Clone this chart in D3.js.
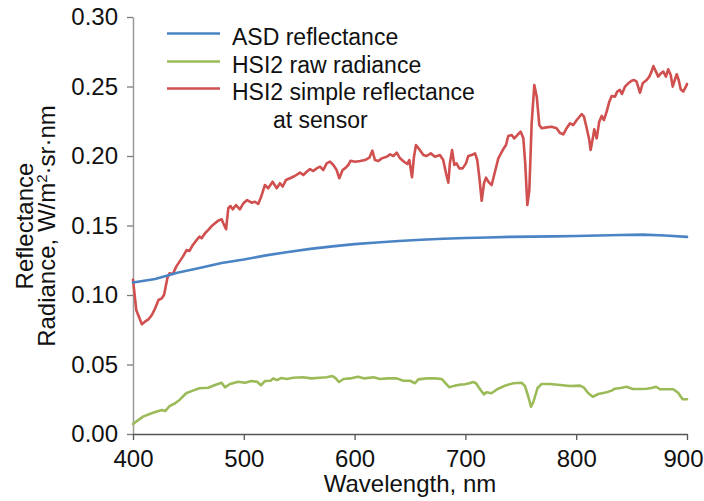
<!DOCTYPE html>
<html>
<head>
<meta charset="utf-8">
<script src="https://cdn.jsdelivr.net/npm/d3@7/dist/d3.min.js"></script>
<style>
  html, body { margin: 0; padding: 0; background: #fff; }
  svg { display: block; font-family: "Liberation Sans", Arial, sans-serif; }
</style>
</head>
<body>
<svg id="chart" width="704" height="501"></svg>
<script>
// Axis ticks
const xTicks = [400, 500, 600, 700, 800, 900];
const yTicks = [0.00, 0.05, 0.10, 0.15, 0.20, 0.25, 0.30];

// Series names
const seriesNames = ["ASD reflectance", "HSI2 raw radiance", "HSI2 simple reflectance"];

// ASD reflectance (smooth field spectrometer curve)
const asdWl  = [400, 420, 440, 460, 480, 500, 520, 540, 560, 580, 600, 620, 640, 660, 680, 700, 720, 740, 760, 780, 800, 820, 840, 860, 880, 900];
const asdVal = [0.109, 0.1115, 0.116, 0.1195, 0.123, 0.1255, 0.1285, 0.131, 0.1332, 0.135, 0.1366, 0.1378, 0.1388, 0.1398, 0.1405, 0.141, 0.1414, 0.1418, 0.142, 0.1422, 0.1425, 0.1428, 0.1432, 0.1434, 0.1428, 0.1418];

// HSI2 raw radiance
const rawWl  = [400, 409, 418, 426, 429, 433, 438, 442, 448, 454, 460, 468, 474, 480, 483, 487.5, 495, 501, 507, 512, 515.5, 519, 524, 526.6, 529.7, 534, 538.7, 544.7, 553.7, 561, 568.8, 574.8, 580, 583, 586, 590, 596, 603, 609, 617, 623, 630, 638, 644, 650, 654.5, 657.5, 665, 672.6, 678.6, 681.6, 685.5, 690.6, 695, 699.6, 703.5, 707, 709.6, 713.7, 716.8, 719, 723.6, 728.7, 735.7, 743.3, 750.8, 753.8, 756.8, 759.2, 761.4, 765, 768.8, 776.4, 785.4, 794.4, 803.4, 807, 811, 815, 820, 827.5, 832, 835, 840, 845.5, 851, 857.6, 863.6, 868, 872, 875.6, 881.6, 887.6, 892, 896, 900];
const rawVal = [0.0072, 0.0125, 0.0153, 0.0173, 0.0165, 0.0201, 0.0221, 0.0245, 0.0293, 0.0312, 0.0329, 0.0333, 0.0353, 0.0369, 0.0336, 0.036, 0.0376, 0.0369, 0.0381, 0.0376, 0.035, 0.0381, 0.0383, 0.04, 0.0388, 0.0403, 0.0396, 0.0405, 0.0408, 0.04, 0.0405, 0.0408, 0.0417, 0.04, 0.0374, 0.0396, 0.04, 0.0412, 0.04, 0.0408, 0.0396, 0.04, 0.04, 0.0383, 0.0383, 0.0365, 0.0393, 0.04, 0.04, 0.0396, 0.0369, 0.0336, 0.0348, 0.0355, 0.0358, 0.0365, 0.0374, 0.0365, 0.0317, 0.0285, 0.03, 0.0293, 0.0322, 0.0348, 0.0365, 0.0369, 0.0345, 0.0268, 0.0196, 0.0232, 0.0329, 0.036, 0.036, 0.0353, 0.0345, 0.0348, 0.0333, 0.0293, 0.0268, 0.0288, 0.03, 0.0312, 0.0326, 0.0331, 0.034, 0.0324, 0.0324, 0.0326, 0.0331, 0.034, 0.0322, 0.0322, 0.0322, 0.0297, 0.025, 0.025];

// HSI2 simple reflectance at sensor
const hsiWl  = [400, 403, 408, 411, 414, 417, 420, 423, 426, 428, 431, 433, 436, 439, 442, 445, 448.5, 451, 454, 457, 460, 462, 465, 468, 471, 474, 477, 480, 481.5, 484, 486, 488, 490, 493, 496.5, 499.5, 503, 507, 510, 513, 515.5, 519, 522, 526, 529.7, 532.7, 535, 538, 541.7, 546, 550.7, 553.7, 556.8, 559.7, 562.7, 565.8, 568.8, 571.8, 574.8, 577.8, 580.8, 583.8, 586.2, 589.2, 591.3, 594.3, 596.4, 600.4, 605, 609.4, 613.3, 616, 618.4, 621.4, 624.5, 629, 632, 635, 638, 641, 644.6, 647.6, 649.4, 651.8, 653.6, 655.4, 658.4, 662, 665, 668.7, 672.6, 677, 680, 682.5, 684.6, 686, 688, 690, 692, 694.5, 697.5, 700.5, 702.6, 705.7, 708.7, 710.7, 712.5, 714.7, 716.8, 718.6, 720.7, 723.7, 726.7, 729.7, 733.7, 736.6, 738.7, 741.8, 744.1, 746.9, 749.9, 752.3, 754, 755.9, 757.7, 759.8, 762.2, 764.4, 766.7, 768.8, 773.3, 777.8, 782.3, 785.4, 788.4, 791.4, 794.4, 797.4, 800.5, 805, 807, 809.5, 811.8, 813, 815, 816.3, 818.5, 820.8, 823, 825, 827.5, 829.9, 832, 835, 837, 839.5, 841.3, 844, 847, 850, 852.2, 854.5, 857.6, 860, 863.6, 866, 868, 869.6, 872, 874, 876.5, 878.6, 881, 883, 885.3, 887.1, 889, 890.7, 892.5, 894.3, 896.6, 899, 900];
const hsiVal = [0.111, 0.089, 0.079, 0.081, 0.0825, 0.0856, 0.0904, 0.0964, 0.0976, 0.1, 0.112, 0.1156, 0.1151, 0.1204, 0.124, 0.1276, 0.1324, 0.1317, 0.136, 0.1391, 0.142, 0.1408, 0.1444, 0.1468, 0.1496, 0.1516, 0.1535, 0.1545, 0.1516, 0.1473, 0.1624, 0.164, 0.1616, 0.1647, 0.1616, 0.1659, 0.1683, 0.1664, 0.1671, 0.1655, 0.1703, 0.1791, 0.1768, 0.1815, 0.1768, 0.1804, 0.178, 0.1827, 0.184, 0.1856, 0.188, 0.1863, 0.1887, 0.1906, 0.1892, 0.1911, 0.1923, 0.1899, 0.1947, 0.1959, 0.1935, 0.1899, 0.184, 0.1899, 0.1911, 0.1935, 0.1966, 0.1959, 0.1964, 0.1971, 0.1988, 0.2038, 0.1971, 0.1964, 0.1983, 0.1995, 0.2012, 0.2, 0.2024, 0.1983, 0.1959, 0.1942, 0.1971, 0.1847, 0.1995, 0.2079, 0.2048, 0.2007, 0.2, 0.2019, 0.1995, 0.2007, 0.1971, 0.1876, 0.1808, 0.1947, 0.2043, 0.1935, 0.1947, 0.1911, 0.1911, 0.1947, 0.2, 0.2007, 0.2019, 0.1971, 0.1851, 0.1678, 0.1804, 0.1844, 0.1815, 0.1791, 0.1887, 0.1983, 0.2043, 0.2079, 0.2144, 0.2151, 0.2127, 0.2151, 0.2175, 0.2127, 0.1947, 0.1647, 0.1755, 0.2235, 0.2511, 0.2427, 0.2223, 0.22, 0.2206, 0.2211, 0.22, 0.2165, 0.2156, 0.22, 0.2235, 0.2223, 0.2259, 0.2302, 0.2283, 0.22, 0.2115, 0.2043, 0.2127, 0.2192, 0.2127, 0.2247, 0.2288, 0.2259, 0.2319, 0.2391, 0.2432, 0.2427, 0.2463, 0.2475, 0.2446, 0.2499, 0.2523, 0.2542, 0.2547, 0.2535, 0.2455, 0.2523, 0.2547, 0.2571, 0.2607, 0.2647, 0.2607, 0.2571, 0.2595, 0.2607, 0.2571, 0.2624, 0.2583, 0.2499, 0.2547, 0.2588, 0.2547, 0.248, 0.2463, 0.2499, 0.2518];

const colors = ["#4a84c4", "#9bbb59", "#d04f4f"];

const svg = d3.select("#chart");
const FONT = 24;
const W = +svg.attr("width");

const x = d3.scaleLinear().domain([400, 900]).range([133, 687]);
const y = d3.scaleLinear().domain([0, 0.30]).range([434, 17]);

// Y axis
const yAxis = svg.append("g")
  .attr("transform", `translate(${x(400)},0)`)
  .call(d3.axisLeft(y).tickValues(yTicks).tickFormat(d3.format(".2f"))
    .tickSize(6).tickSizeOuter(0).tickPadding(9));
yAxis.select(".domain").attr("stroke", "#9a9a9a").attr("stroke-width", 1.5);
yAxis.selectAll(".tick line").attr("stroke", "#7a7a7a").attr("stroke-width", 1.3);
yAxis.selectAll(".tick text").attr("font-size", FONT).attr("font-family", null).attr("fill", "#111");

// X axis
const xAxis = svg.append("g")
  .attr("transform", `translate(0,${y(0)})`)
  .call(d3.axisBottom(x).tickValues(xTicks).tickFormat(d3.format("d"))
    .tickSize(6).tickSizeOuter(0).tickPadding(10));
xAxis.select(".domain").attr("stroke", "#555").attr("stroke-width", 1.5);
xAxis.selectAll(".tick line").attr("stroke", "#555").attr("stroke-width", 1.3);
xAxis.selectAll(".tick text").attr("font-size", FONT).attr("font-family", null).attr("fill", "#111");

// keep the last tick label inside the drawing area
xAxis.selectAll(".tick text").each(function (d) {
  const bb = this.getBBox();
  const right = x(d) + bb.x + bb.width;
  if (right > W - 1) d3.select(this).attr("x", (W - 1) - right);
});

// Series lines
const series = [
  { wl: asdWl, val: asdVal },
  { wl: rawWl, val: rawVal },
  { wl: hsiWl, val: hsiVal }
];
const line = d3.line().x(d => x(d[0])).y(d => y(d[1])).curve(d3.curveLinear);
const drawOrder = [1, 2, 0];
drawOrder.forEach(i => {
  const s = series[i];
  svg.append("path")
    .datum(s.wl.map((w, k) => [w, s.val[k]]))
    .attr("fill", "none")
    .attr("stroke", colors[i])
    .attr("stroke-width", 2.6)
    .attr("stroke-linejoin", "round")
    .attr("stroke-linecap", "round")
    .attr("d", line);
});

// Legend
const legend = svg.append("g").attr("font-size", 23).attr("fill", "#111");
const rowBaselines = [45, 73, 100];
seriesNames.forEach((name, i) => {
  legend.append("line")
    .attr("x1", 167).attr("x2", 220)
    .attr("y1", rowBaselines[i] - 11.5).attr("y2", rowBaselines[i] - 11.5)
    .attr("stroke", colors[i]).attr("stroke-width", 2.6);
  legend.append("text").attr("x", 232).attr("y", rowBaselines[i]).text(name);
});
legend.append("text").attr("x", 273).attr("y", 127.5).text("at sensor");

// Axis titles
svg.append("text")
  .attr("x", x(650)).attr("y", 492)
  .attr("text-anchor", "middle").attr("font-size", FONT).attr("fill", "#111")
  .text("Wavelength, nm");

const yTitle = svg.append("text")
  .attr("transform", "translate(0,226) rotate(-90)")
  .attr("text-anchor", "middle").attr("font-size", FONT).attr("fill", "#111");
yTitle.append("tspan").attr("x", 0).attr("y", 33).text("Reflectance");
const l2 = yTitle.append("tspan").attr("x", 0).attr("y", 55);
l2.append("tspan").text("Radiance, W/m");
l2.append("tspan").attr("font-size", 15).attr("dy", -8).text("2");
l2.append("tspan").attr("dy", 8).text("·sr·nm");
</script>
</body>
</html>
